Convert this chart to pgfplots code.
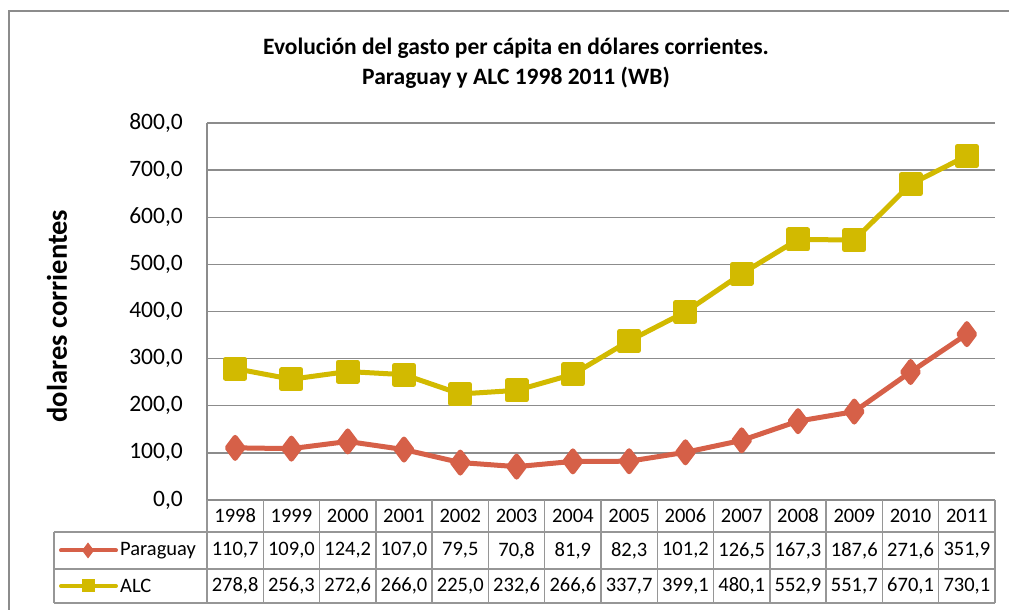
\documentclass[border=0pt]{standalone}
\usepackage{pgfplots}
\pgfplotsset{compat=1.18}
\usepackage{fontspec}
\setmainfont{Carlito}
\definecolor{alc}{RGB}{210,186,0}
\definecolor{par}{RGB}{214,96,72}
\definecolor{gridc}{RGB}{140,140,140}
\definecolor{tabc}{RGB}{150,150,150}
\begin{document}
\begin{tikzpicture}[x=1pt,y=1pt]
\useasboundingbox (0,0) rectangle (1009,610);
\fill[white] (0,0) rectangle (1009,610);
\draw[gridc, line width=1.5pt] (9,0) -- (9,599) -- (1009,599);
\node[font=\bfseries\fontsize{23.5}{30}\selectfont, align=center] at (516,547) {Evolución del gasto per cápita en dólares corrientes.\\Paraguay y ALC 1998 2011 (WB)};
\node[rotate=90, font=\bfseries\fontsize{28.5}{30}\selectfont] at (57,294) {dolares corrientes};
\begin{axis}[at={(207pt,110pt)}, anchor=south west, scale only axis,
  width=788pt, height=377pt,
  xmin=-0.5, xmax=13.5, ymin=0, ymax=800,
  xtick=\empty, ytick={0,100,...,800},
  ymajorgrids, grid style={gridc, line width=1.5pt},
  axis line style={draw=none}, major tick length=0pt,
  yticklabel style={font=\fontsize{23.5}{28}\selectfont, inner sep=0pt, xshift=-24pt},
  /pgf/number format/.cd, fixed, fixed zerofill, precision=1, use comma, 1000 sep={}, assume math mode=true,
  /pgfplots/.cd, clip=false]
\addplot[par, line width=5pt, line join=round, mark=diamond*, mark size=10.5pt, mark options={solid}]
 coordinates {(0,110.7)(1,109.0)(2,124.2)(3,107.0)(4,79.5)(5,70.8)(6,81.9)(7,82.3)(8,101.2)(9,126.5)(10,167.3)(11,187.6)(12,271.6)(13,351.9)};
\addplot[alc, line width=5pt, line join=round, mark=square*, mark size=9.5pt, mark options={solid}]
 coordinates {(0,278.8)(1,256.3)(2,272.6)(3,266.0)(4,225.0)(5,232.6)(6,266.6)(7,337.7)(8,399.1)(9,480.1)(10,552.9)(11,551.7)(12,670.1)(13,730.1)};
\end{axis}
\draw[gridc, line width=1.5pt] (207,110) -- (207,487);
% data table
\begin{scope}[tabc, line width=1.5pt]
\draw (54,78) -- (995,78);
\draw (54,41) -- (995,41);
\draw (54,7) -- (995,7);
\draw (54,78) -- (54,7);
\foreach \i in {0,...,14} {\draw ({207+56.286*\i},110) -- ({207+56.286*\i},7);}
\end{scope}
\begin{scope}[font=\fontsize{20.5}{24}\selectfont]
\foreach \y [count=\i from 0] in {1998,...,2011} {\node at ({207+56.286*(\i+0.5)},94) {\y};}
\foreach \v [count=\i from 0] in {110.7,109.0,124.2,107.0,79.5,70.8,81.9,82.3,101.2,126.5,167.3,187.6,271.6,351.9}
 {\node at ({207+56.286*(\i+0.5)},59.5) {\pgfmathprintnumber[fixed,fixed zerofill,precision=1,use comma,assume math mode=true]{\v}};}
\foreach \v [count=\i from 0] in {278.8,256.3,272.6,266.0,225.0,232.6,266.6,337.7,399.1,480.1,552.9,551.7,670.1,730.1}
 {\node at ({207+56.286*(\i+0.5)},24) {\pgfmathprintnumber[fixed,fixed zerofill,precision=1,use comma,assume math mode=true]{\v}};}
\node[anchor=west, inner sep=0pt] at (120,59.5) {Paraguay};
\node[anchor=west, inner sep=0pt] at (120,24) {ALC};
\end{scope}
\draw[par, line width=4pt, line cap=round] (61,59.5) -- (116,59.5);
\fill[par] (88,67.5) -- (94,59.5) -- (88,51.5) -- (82,59.5) -- cycle;
\draw[alc, line width=4pt, line cap=round] (61,24) -- (116,24);
\fill[alc] (81.5,17.5) rectangle (94.5,30.5);
\end{tikzpicture}
\end{document}
